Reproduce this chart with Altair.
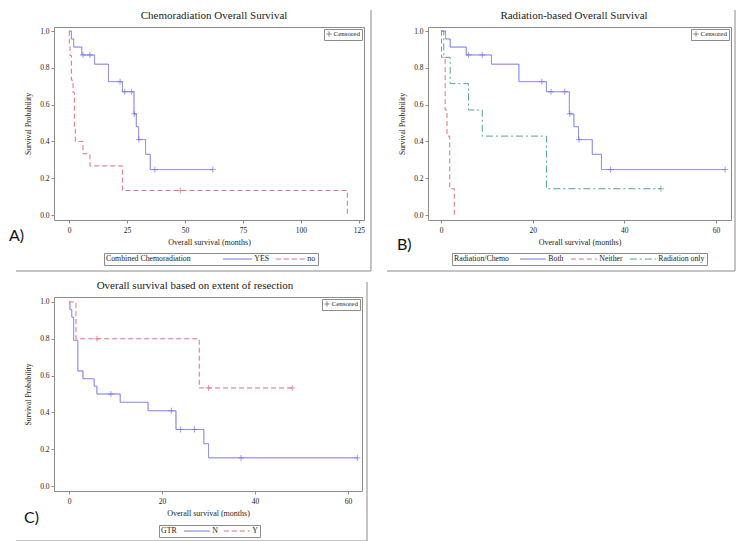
import altair as alt
import pandas as pd

# ---------------- data ----------------
# Panel A: Chemoradiation
A_GROUPS = ["YES", "no"]
A_YES_T = [0, 1.0, 2.0, 5.5, 11.0, 17.0, 23.0, 28.0, 29.0, 30.0, 33.0, 35.0, 62.0]
A_YES_S = [1.0, 0.957, 0.913, 0.870, 0.820, 0.725, 0.670, 0.550, 0.480, 0.410, 0.330, 0.247, 0.247]
A_YES_CT = [6.0, 9.0, 22.0, 24.0, 27.0, 28.1, 30.1, 37.0, 62.0]
A_YES_CS = [0.870, 0.870, 0.725, 0.670, 0.670, 0.550, 0.410, 0.247, 0.247]
A_NO_T = [0, 0.1, 0.4, 1.0, 1.7, 2.3, 2.7, 6.0, 9.0, 23.0, 120.0]
A_NO_S = [1.0, 0.933, 0.867, 0.733, 0.667, 0.467, 0.400, 0.333, 0.267, 0.133, 0.0]
A_NO_CT = [48.0]
A_NO_CS = [0.133]

# Panel B: Radiation/Chemo
B_GROUPS = ["Both", "Neither", "Radiation only"]
B_BOTH_T = A_YES_T
B_BOTH_S = A_YES_S
B_BOTH_CT = A_YES_CT
B_BOTH_CS = A_YES_CS
B_NEI_T = [0, 0.1, 0.9, 1.3, 1.9, 2.9]
B_NEI_S = [1.0, 0.857, 0.571, 0.429, 0.143, 0.0]
B_RAD_T = [0, 0.6, 2.0, 6.0, 9.0, 23.0, 48.0]
B_RAD_S = [1.0, 0.857, 0.714, 0.571, 0.429, 0.143, 0.143]
B_RAD_CT = [48.0]
B_RAD_CS = [0.143]

# Panel C: GTR
C_GROUPS = ["N", "Y"]
C_N_T = [0, 0.2, 0.6, 1.0, 1.9, 3.0, 5.4, 6.0, 11.0, 17.0, 23.0, 29.0, 30.0, 62.0]
C_N_S = [1.0, 0.958, 0.917, 0.792, 0.625, 0.583, 0.542, 0.500, 0.455, 0.409, 0.307, 0.230, 0.153, 0.153]
C_N_CT = [9.0, 22.0, 24.0, 27.0, 37.0, 62.0]
C_N_CS = [0.500, 0.409, 0.307, 0.307, 0.153, 0.153]
C_Y_T = [0, 1.5, 28.0, 48.0]
C_Y_S = [1.0, 0.800, 0.533, 0.533]
C_Y_CT = [6.0, 30.0, 48.0]
C_Y_CS = [0.800, 0.533, 0.533]

Y_TICKS = [0.0, 0.2, 0.4, 0.6, 0.8, 1.0]
A_X_TICKS = [0, 25, 50, 75, 100, 125]
BC_X_TICKS = [0, 20, 40, 60]

# ---------------- styling ----------------
FONT = "Liberation Serif"
SANS = "Lato"
GRAY = "#8c8c8c"
BORDER = "#b0b0b0"
TXT = "#222222"
BLUE = "#7070E8"
RED = "#E0707E"
TEAL = "#4FA592"
SOLID = [1, 0]
DASH = [5, 3]
DASHDOT = [7, 3, 2, 3]
PLUS = "M-1,0H1M0,-1V1"
SYM_SIZE = 36  # legend symbol box: 6 px

IND = dict(color="independent", strokeDash="independent", shape="independent")


def line_df(series):
    rows = []
    for name, ts, ss in series:
        for t, s in zip(ts, ss):
            rows.append({"t": t, "s": s, "g": name})
    return pd.DataFrame(rows)


def txt(s, x, y, size, font, align="left", baseline="middle", color=TXT):
    return alt.Chart(pd.DataFrame({"lab": [s]})).mark_text(
        font=font, fontSize=size, align=align, baseline=baseline, color=color).encode(
        x=alt.value(x), y=alt.value(y), text="lab:N")


def panel(title, title_x, series, censors, colors, dashes, xdom, xticks, ydom, w, h,
          leg_title, leg_x, leg_y, leg_len, leg_tpad, leg_colpad,
          label, lab_x, lab_y, brd_top, brd_left, brd_right, brd_bottom, inv_left=None):
    names = [s[0] for s in series]
    xs = alt.Scale(domain=xdom, nice=False, zero=False)
    ys = alt.Scale(domain=ydom, nice=False, zero=False)
    xenc = alt.X("t:Q", scale=xs, axis=alt.Axis(values=xticks, title="Overall survival (months)",
                                                  titleFontSize=8, titlePadding=5, labelPadding=3))
    yenc = alt.Y("s:Q", scale=ys, axis=alt.Axis(values=Y_TICKS, format=".1f", title="Survival Probability",
                                                  titleFontSize=7.7, titlePadding=7, labelPadding=2))
    half = leg_len / 2.0
    sym_path = "M-%.3f,0H%.3f" % (half / 3.0, half / 3.0)
    leg = alt.Legend(orient="none", legendX=leg_x, legendY=leg_y, direction="horizontal",
                     titleOrient="left", title=leg_title, titleFont=FONT, titleFontSize=7.8,
                     titleFontWeight="normal", titleColor=TXT, titlePadding=leg_tpad,
                     labelFont=FONT, labelFontSize=7.8, labelColor=TXT, labelOffset=half - 1.5,
                     symbolType=sym_path, symbolSize=SYM_SIZE, symbolStrokeWidth=1,
                     symbolOffset=half - 3,
                     strokeColor=GRAY, padding=2, columnPadding=leg_colpad)
    lines = alt.Chart(line_df(series)).mark_line(interpolate="step-after", strokeWidth=1).encode(
        x=xenc, y=yenc,
        color=alt.Color("g:N", scale=alt.Scale(domain=names, range=colors), legend=leg),
        strokeDash=alt.StrokeDash("g:N", scale=alt.Scale(domain=names, range=dashes), legend=leg),
    )
    shape_leg = alt.Legend(orient="top-right", offset=2, title=None, strokeColor=GRAY, padding=1.5,
                           labelFont=FONT, labelFontSize=7, labelColor=TXT, labelOffset=1,
                           symbolStrokeColor="#333333", symbolSize=30, symbolStrokeWidth=0.8)
    layers = [lines]
    for ct, cs, col in censors:
        cdf = pd.DataFrame({"t": ct, "s": cs, "lab": ["Censored"] * len(ct)})
        layers.append(
            alt.Chart(cdf).mark_point(filled=False, strokeWidth=1, size=36, color=col).encode(
                x=xenc, y=yenc,
                shape=alt.Shape("lab:N", scale=alt.Scale(domain=["Censored"], range=[PLUS]), legend=shape_leg),
            )
        )
    one = pd.DataFrame({"k": [0]})
    layers.append(txt(title, title_x, -8, 11, FONT, align="center", baseline="alphabetic"))
    layers.append(txt(label, lab_x, lab_y, 16, SANS, color="#111111"))
    layers.append(alt.Chart(one).mark_rule(color=BORDER, strokeWidth=1.5).encode(
        x=alt.value(brd_right), y=alt.value(brd_top), y2=alt.value(brd_bottom)))
    layers.append(alt.Chart(one).mark_rule(color=BORDER, strokeWidth=1.5).encode(
        x=alt.value(brd_left), x2=alt.value(brd_right), y=alt.value(brd_bottom)))
    if inv_left is not None:
        layers.append(alt.Chart(one).mark_rule(color=BORDER, strokeWidth=1, strokeOpacity=0).encode(
            x=alt.value(inv_left), x2=alt.value(brd_left), y=alt.value(brd_bottom)))
    return alt.layer(*layers).properties(width=w, height=h)


A = panel("Chemoradiation Overall Survival", 160,
          [("YES", A_YES_T, A_YES_S), ("no", A_NO_T, A_NO_S)],
          [(A_YES_CT, A_YES_CS, BLUE), (A_NO_CT, A_NO_CS, RED)],
          [BLUE, RED], [SOLID, DASH],
          [-6.5, 127.2], A_X_TICKS, [-0.027, 1.022], 310, 193,
          "Combined Chemoradiation", 50, 226, 29, 31, 3,
          "A)", -45, 209, -17, -38, 317, 244)

B = panel("Radiation-based Overall Survival", 146,
          [("Both", B_BOTH_T, B_BOTH_S), ("Neither", B_NEI_T, B_NEI_S), ("Radiation only", B_RAD_T, B_RAD_S)],
          [(B_BOTH_CT, B_BOTH_CS, BLUE), (B_RAD_CT, B_RAD_CS, TEAL)],
          [BLUE, RED, TEAL], [SOLID, DASH, DASHDOT],
          [-2.84, 63.27], BC_X_TICKS, [-0.027, 1.022], 303, 193,
          "Radiation/Chemo", 24, 226, 26, 9, 4,
          "B)", -31, 218, -17, -41, 307, 244)

C = panel("Overall survival based on extent of resection", 141,
          [("N", C_N_T, C_N_S), ("Y", C_Y_T, C_Y_S)],
          [(C_N_CT, C_N_CS, BLUE), (C_Y_CT, C_Y_CS, RED)],
          [BLUE, RED], [SOLID, DASH],
          [-3.23, 63.0], BC_X_TICKS, [-0.027, 1.027], 308, 194,
          "GTR", 105, 228, 26, 6, 3,
          "C)", -30, 221, -15, -38, 313, 244, inv_left=-45)

top = alt.hconcat(A, B, spacing=12).resolve_scale(**IND).resolve_legend(
    color="independent", strokeDash="independent", shape="independent")
chart = alt.vconcat(top, C, spacing=6).resolve_scale(**IND).resolve_legend(
    color="independent", strokeDash="independent", shape="independent"
).properties(padding=0).configure_view(
    stroke=GRAY, strokeWidth=1
).configure_axis(
    domain=False, grid=False, ticks=True, tickSize=3, tickColor=GRAY, tickWidth=1,
    labelFont=FONT, labelFontSize=7.5, labelColor=TXT,
    titleFont=FONT, titleFontWeight="normal", titleColor=TXT,
)

chart.save("out.html", embed_options={"renderer": "svg", "actions": False})
